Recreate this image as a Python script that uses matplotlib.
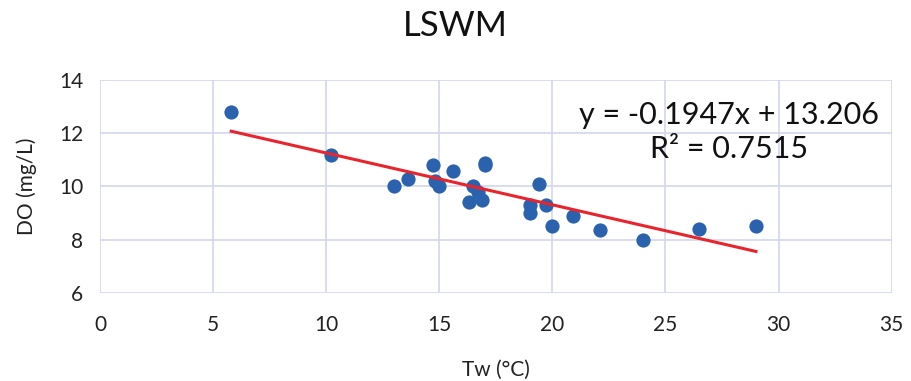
import numpy as np
import matplotlib.pyplot as plt

plt.rcParams['font.family'] = ['Lato', 'DejaVu Sans']

# Tw (°C) and DO (mg/L)
tw = [5.8, 10.2, 13.0, 13.6, 14.7, 14.8, 15.0, 15.6, 17.0, 17.0, 16.5, 16.7,
      16.3, 16.9, 19.4, 19.0, 19.0, 19.7, 20.0, 20.9, 22.1, 24.0, 26.5, 29.0]
do = [12.8, 11.2, 10.0, 10.3, 10.8, 10.2, 10.0, 10.6, 10.9, 10.8, 10.0, 9.8,
      9.4, 9.5, 10.1, 9.3, 9.0, 9.3, 8.5, 8.9, 8.35, 8.0, 8.4, 8.5]
slope = -0.1947
intercept = 13.206
r2 = 0.7515

fig = plt.figure(figsize=(9.11, 3.81), dpi=100)
ax = fig.add_axes([0.1098, 0.231, 0.869, 0.559])

grid_col = '#d3d7ee'
ax.set_xlim(0, 35)
ax.set_ylim(6, 14)
ax.set_xticks(np.arange(0, 36, 5))
ax.set_yticks(np.arange(6, 15, 2))
ax.grid(True, color=grid_col, linewidth=1.2)
ax.set_axisbelow(True)
for s in ax.spines.values():
    s.set_visible(False)
ax.tick_params(length=0, labelsize=15, colors='#222222')
ax.tick_params(axis='x', pad=16)
ax.tick_params(axis='y', pad=12)

ax.scatter(tw, do, s=105, color='#2a62ae', zorder=3, linewidths=0)

xl = np.array([min(tw), max(tw)])
ax.plot(xl, slope * xl + intercept, color='#e8242c', linewidth=2.2, zorder=4)

ax.text(0.795, 0.755, 'y = %.4fx + %.3f\nR² = %.4f' % (slope, intercept, r2),
        transform=ax.transAxes, ha='center', va='center', fontsize=22,
        linespacing=1.25, color='#111111', zorder=5)

ax.set_xlabel('Tw (°C)', fontsize=15, labelpad=18, color='#222222')
ax.set_ylabel('DO (mg/L)', fontsize=15, labelpad=16, color='#222222')
fig.suptitle('LSWM', fontsize=25, y=0.975, color='#111111')

fig.savefig('out.png', dpi=100)
